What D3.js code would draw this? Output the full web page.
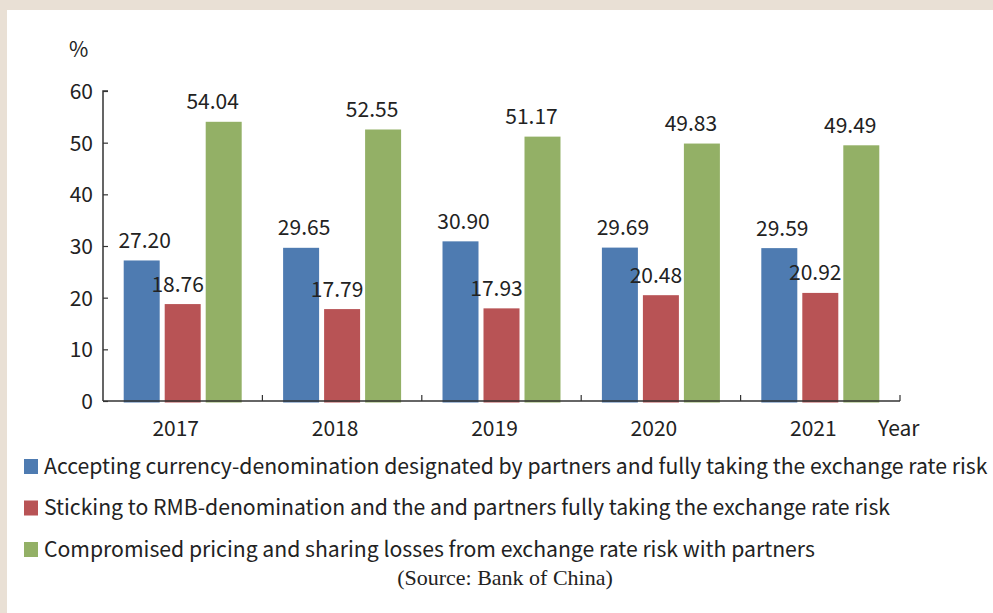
<!DOCTYPE html>
<html>
<head>
<meta charset="utf-8">
<script src="https://cdn.jsdelivr.net/npm/d3@7"></script>
<style>
  html, body { margin: 0; padding: 0; background: #e9e0d5; }
  #chart { position: absolute; left: 0; top: 0; }
  text { font-family: "Noto Sans CJK SC", "Noto Sans", sans-serif; fill: #222; }
</style>
</head>
<body>
<div id="chart"></div>
<script>
let years = ['2017', '2018', '2019', '2020', '2021'];
let seriesNames = [
  'Accepting currency-denomination designated by partners and fully taking the exchange rate risk',
  'Sticking to RMB-denomination and the and partners fully taking the exchange rate risk',
  'Compromised pricing and sharing losses from exchange rate risk with partners'
];
let accepting = [27.20, 29.65, 30.90, 29.69, 29.59];
let sticking = [18.76, 17.79, 17.93, 20.48, 20.92];
let compromised = [54.04, 52.55, 51.17, 49.83, 49.49];
let yTicks = [0, 10, 20, 30, 40, 50, 60];

let colors = ['#4e7bb1', '#b85355', '#93b066'];
let labelShift = [3, -5, -11];

let W = 993, H = 613;
let x0 = 103, x1 = 900, yTop = 91, yBot = 401;
let fs = '21px';

let svg = d3.select('#chart').append('svg')
  .attr('width', W)
  .attr('height', H)

// frame
svg.append('rect').attr('width', W).attr('height', H).attr('fill', '#e9e0d5')
svg.append('rect').attr('x', 7).attr('y', 10).attr('width', W - 7).attr('height', H - 10).attr('fill', '#fff')

let xScale = d3.scaleBand().domain(years).range([x0, x1])
let xInner = d3.scaleBand().domain([0, 1, 2]).range([0, xScale.bandwidth()])
  .paddingInner(0.122).paddingOuter(0.505).align(0.5)
let yScale = d3.scaleLinear().domain([0, 60]).range([yBot, yTop])

let series = [accepting, sticking, compromised].map((vals, s) =>
  vals.map((v, i) => ({ s, year: years[i], v })))

let g = svg.append('g')
series.forEach(rows => {
  g.selectAll(null)
    .data(rows)
    .enter().append('rect')
    .attr('x', d => xScale(d.year) + xInner(d.s))
    .attr('width', xInner.bandwidth())
    .attr('y', d => yScale(d.v))
    .attr('height', d => yBot + 1.5 - yScale(d.v))
    .attr('fill', d => colors[d.s])

  g.selectAll(null)
    .data(rows)
    .enter().append('text')
    .attr('x', d => xScale(d.year) + xInner(d.s) + xInner.bandwidth() / 2 + labelShift[d.s])
    .attr('y', d => yScale(d.v) - 12.5)
    .attr('text-anchor', 'middle')
    .style('font-size', fs)
    .text(d => d.v.toFixed(2))
})

// y axis
let yAxis = d3.axisRight(yScale).tickValues(yTicks).tickSize(5).tickFormat(d3.format('d'))
let ya = svg.append('g').attr('transform', `translate(${x0},0)`).call(yAxis)
ya.select('.domain').attr('d', `M5,${yTop}H0V${yBot}`).attr('stroke', '#333').attr('stroke-width', 1.5)
ya.selectAll('.tick line').attr('stroke', '#333').attr('stroke-width', 1.2)
ya.selectAll('.tick text')
  .attr('x', -10).attr('dy', '0.36em')
  .attr('text-anchor', 'end')
  .style('font-size', fs)
  .style('font-family', '"Noto Sans CJK SC", sans-serif')
  .attr('fill', '#222')

// x axis
let xa = svg.append('g').attr('transform', `translate(0,${yBot})`)
  .call(d3.axisBottom(xScale).tickSize(0))
xa.select('.domain').remove()
xa.append('line').attr('x1', x0).attr('x2', x1).attr('stroke', '#333').attr('stroke-width', 1.5)
xa.selectAll(null)
  .data(years.slice(1).map(y => xScale(y)).concat([x1]))
  .enter().append('line')
  .attr('x1', d => d).attr('x2', d => d)
  .attr('y1', 0).attr('y2', -6)
  .attr('stroke', '#333').attr('stroke-width', 1.2)
xa.selectAll('.tick text')
  .attr('y', 35).attr('dy', 0)
  .attr('dx', -7)
  .style('font-size', fs)
  .style('font-family', '"Noto Sans CJK SC", sans-serif')
  .attr('fill', '#222')

svg.append('text').attr('x', 878).attr('y', 436).style('font-size', fs).text('Year')
svg.append('text').attr('x', 69).attr('y', 57).style('font-size', fs).text('%')

// legend
let legend = svg.append('g')
seriesNames.forEach((name, i) => {
  let row = legend.append('g').attr('transform', `translate(24,${459 + i * 41.5})`)
  row.append('rect').attr('width', 14).attr('height', 15).attr('fill', colors[i])
  row.append('text').attr('x', 20).attr('y', 14.5).style('font-size', '21.2px').text(name)
})

svg.append('text')
  .attr('x', 505).attr('y', 585)
  .attr('text-anchor', 'middle')
  .style('font-family', '"Liberation Serif", serif')
  .style('font-size', '22px')
  .attr('fill', '#333')
  .text('(Source: Bank of China)')
</script>
</body>
</html>
